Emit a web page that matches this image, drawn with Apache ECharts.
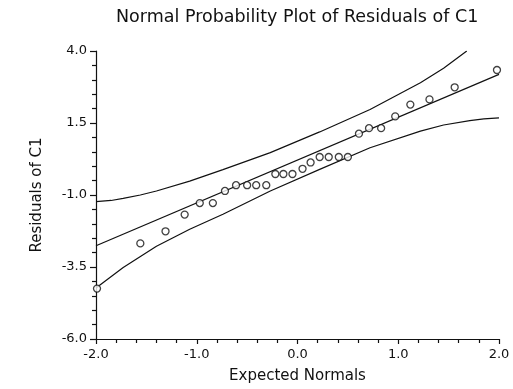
<!DOCTYPE html>
<html>
<head>
<meta charset="utf-8">
<script src="https://cdn.jsdelivr.net/npm/echarts@6/dist/echarts.min.js"></script>
<style>
    html, body { margin: 0; padding: 0; background: #fff; }
    #main { width: 513px; height: 389px; }
</style>
</head>
<body>
<div id="main"></div>
<script>
// expected normals (x) and residuals (y)
var normals = [-1.99, -1.56, -1.31, -1.12, -0.97, -0.84, -0.72, -0.61, -0.50, -0.41,
    -0.31, -0.22, -0.14, -0.05, 0.05, 0.13, 0.22, 0.31, 0.41, 0.50,
    0.61, 0.71, 0.83, 0.97, 1.12, 1.31, 1.56, 1.98];
var residuals = [-4.25, -2.68, -2.26, -1.68, -1.28, -1.28, -0.86, -0.66, -0.66, -0.66,
    -0.66, -0.27, -0.27, -0.27, -0.09, 0.13, 0.32, 0.32, 0.32, 0.32,
    1.13, 1.32, 1.32, 1.73, 2.14, 2.32, 2.74, 3.34];

// fitted line
var fitX = [-2.0, 2.0];
var fitY = [-2.76, 3.19];

// confidence band, upper
var upperX = [-2.0, -1.85, -1.73, -1.56, -1.40, -1.07, -0.74, -0.27, 0.22, 0.72, 1.22, 1.45, 1.68];
var upperY = [-1.23, -1.19, -1.12, -1.00, -0.86, -0.52, -0.12, 0.47, 1.19, 1.97, 2.90, 3.40, 4.0];

// confidence band, lower
var lowerX = [-2.0, -1.73, -1.40, -1.07, -0.74, -0.27, 0.22, 0.72, 1.22, 1.45, 1.71, 1.85, 2.0];
var lowerY = [-4.23, -3.52, -2.78, -2.19, -1.67, -0.86, -0.11, 0.64, 1.22, 1.43, 1.58, 1.64, 1.68];

var xTicks = [-2, -1, 0, 1, 2];
var yTicks = [-6, -3.5, -1, 1.5, 4];

function pairs(xs, ys) {
    var out = [];
    for (var i = 0; i < xs.length; i++) {
        out.push([xs[i], ys[i]]);
    }
    return out;
}

var fontFamily = '"DejaVu Sans", sans-serif';
var ink = '#111';

var chart = echarts.init(document.getElementById('main'));

var lineStyle = { color: ink, width: 1.2 };

var option = {
    animation: false,
    backgroundColor: '#fff',
    title: {
        text: 'Normal Probability Plot of Residuals of C1',
        left: 111,
        top: 3,
        textStyle: {
            fontFamily: fontFamily,
            fontSize: 17.5,
            fontWeight: 'normal',
            color: ink
        }
    },
    grid: {
        left: 96,
        right: 14,
        top: 51,
        bottom: 50
    },
    xAxis: {
        type: 'value',
        min: xTicks[0],
        max: xTicks[xTicks.length - 1],
        interval: 1,
        name: 'Expected Normals',
        nameLocation: 'middle',
        nameGap: 30,
        nameTextStyle: { fontFamily: fontFamily, fontSize: 15, color: ink },
        axisLine: { onZero: false, lineStyle: { color: ink, width: 1.2 } },
        axisTick: { show: true, length: 5, lineStyle: { color: ink, width: 1.2 } },
        minorTick: { show: true, splitNumber: 5, length: 4, lineStyle: { color: ink, width: 1.2 } },
        splitLine: { show: false },
        axisLabel: {
            margin: 9,
            fontFamily: fontFamily,
            fontSize: 13,
            color: ink,
            formatter: function (v) { return v.toFixed(1); }
        }
    },
    yAxis: {
        type: 'value',
        min: yTicks[0],
        max: yTicks[yTicks.length - 1],
        interval: 2.5,
        name: 'Residuals of C1',
        nameLocation: 'middle',
        nameGap: 51,
        nameTextStyle: { fontFamily: fontFamily, fontSize: 15, color: ink },
        axisLine: { show: true, onZero: false, lineStyle: { color: ink, width: 1.2 } },
        axisTick: { show: true, length: 6, lineStyle: { color: ink, width: 1.2 } },
        minorTick: { show: true, splitNumber: 5, length: 4, lineStyle: { color: ink, width: 1.2 } },
        splitLine: { show: false },
        axisLabel: {
            margin: 9,
            fontFamily: fontFamily,
            fontSize: 13,
            color: ink,
            formatter: function (v) { return v.toFixed(1); }
        }
    },
    series: [
        {
            name: 'upper',
            type: 'line',
            data: pairs(upperX, upperY),
            symbol: 'none',
            lineStyle: lineStyle
        },
        {
            name: 'fit',
            type: 'line',
            data: pairs(fitX, fitY),
            symbol: 'none',
            lineStyle: lineStyle
        },
        {
            name: 'lower',
            type: 'line',
            data: pairs(lowerX, lowerY),
            symbol: 'none',
            lineStyle: lineStyle
        },
        {
            name: 'residuals',
            type: 'scatter',
            data: pairs(normals, residuals),
            symbol: 'circle',
            symbolSize: 7,
            itemStyle: {
                color: '#fff',
                borderColor: ink,
                borderWidth: 1.3
            },
            z: 5
        }
    ]
};

chart.setOption(option);
</script>
</body>
</html>
